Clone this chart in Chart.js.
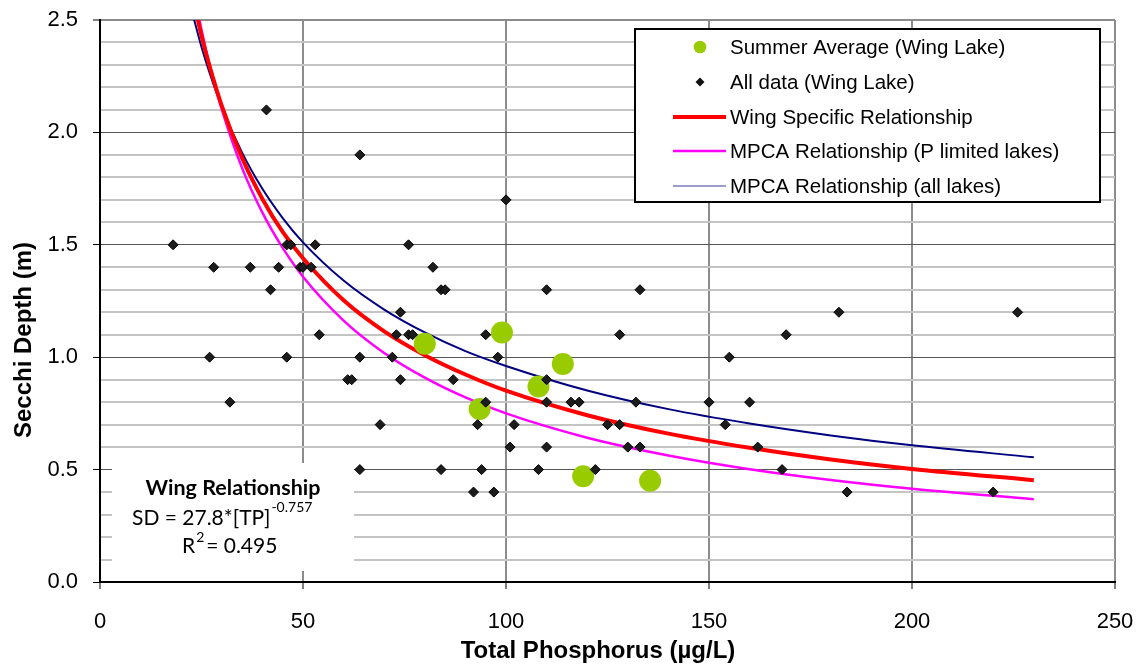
<!DOCTYPE html>
<html>
<head>
<meta charset="utf-8">
<script src="https://cdn.jsdelivr.net/npm/chart.js@4"></script>
<style>
  html,body{margin:0;padding:0;background:#fff;}
  #wrap{width:1138px;height:669px;position:relative;}
</style>
</head>
<body>
<div id="wrap"><canvas id="sd_chart" width="1138" height="669"></canvas></div>
<script>
/* Wing Lake: Secchi depth against total phosphorus */
const summerTP = [80, 93.5, 99, 108, 114, 119, 135.5];
const summerSD = [1.06, 0.77, 1.11, 0.87, 0.97, 0.47, 0.45];

const allTP = [41, 64, 100,
  18, 46, 47, 53, 76,
  28, 37, 44, 49.3, 50, 52, 82,
  42, 84, 85, 110, 133,
  74, 182, 226,
  54, 73, 76, 77, 95, 128, 169,
  27, 46, 64, 72, 98, 155,
  61, 62, 74, 87, 110,
  32, 95, 110, 116, 118, 132, 150, 160,
  69, 93, 102, 125, 128, 154,
  101, 110, 130, 133, 162,
  64, 84, 94, 108, 122, 168,
  92, 97, 184, 220];
const allSD = [2.1, 1.9, 1.7,
  1.5, 1.5, 1.5, 1.5, 1.5,
  1.4, 1.4, 1.4, 1.4, 1.4, 1.4, 1.4,
  1.3, 1.3, 1.3, 1.3, 1.3,
  1.2, 1.2, 1.2,
  1.1, 1.1, 1.1, 1.1, 1.1, 1.1, 1.1,
  1.0, 1.0, 1.0, 1.0, 1.0, 1.0,
  0.9, 0.9, 0.9, 0.9, 0.9,
  0.8, 0.8, 0.8, 0.8, 0.8, 0.8, 0.8, 0.8,
  0.7, 0.7, 0.7, 0.7, 0.7, 0.7,
  0.6, 0.6, 0.6, 0.6, 0.6,
  0.5, 0.5, 0.5, 0.5, 0.5, 0.5,
  0.4, 0.4, 0.4, 0.4];

// relationship curves, sampled along TP
const curveTP    = [23, 25, 27, 30, 35, 40, 45, 50, 60, 70, 80, 90, 100, 120, 140, 160, 180, 200, 230];
const wingSD     = [2.592, 2.430, 2.294, 2.118, 1.886, 1.704, 1.557, 1.440, 1.253, 1.115, 1.009, 0.923, 0.851, 0.742, 0.660, 0.597, 0.545, 0.503, 0.453];
const pLimitedSD = [2.637, 2.457, 2.299, 2.102, 1.841, 1.643, 1.486, 1.358, 1.163, 1.019, 0.909, 0.821, 0.750, 0.642, 0.563, 0.502, 0.454, 0.415, 0.368];
const allLakesSD = [2.514, 2.380, 2.264, 2.113, 1.910, 1.749, 1.619, 1.511, 1.341, 1.212, 1.110, 1.027, 0.961, 0.852, 0.769, 0.705, 0.652, 0.608, 0.555];

const xTicks = [0, 50, 100, 150, 200, 250];
const yTicks = [0, 0.5, 1.0, 1.5, 2.0, 2.5];
const yMinorStep = 0.1;

const legendLabels = ['Summer Average (Wing Lake)', 'All data (Wing Lake)', 'Wing Specific Relationship',
  'MPCA Relationship (P limited lakes)', 'MPCA Relationship (all lakes)'];

const pts = (xs, ys) => xs.map((x, i) => ({x: x, y: ys[i]}));
const isMajor = v => yTicks.some(t => Math.abs(t - v) < 1e-6);
const SANS = '"Liberation Sans", Arial, sans-serif';

// white box with the fitted equation
const eqBox = {
  id: 'eqBox',
  beforeDatasetsDraw(chart){
    const c = chart.ctx;
    c.save();
    c.fillStyle = '#fff';
    c.fillRect(112, 463, 242, 108);
    c.fillStyle = '#000';
    c.textBaseline = 'alphabetic';
    c.font = 'bold 21.5px Lato';
    c.textAlign = 'center';
    c.fillText('Wing Relationship', 233, 495);
    c.textAlign = 'left';
    c.font = '21px Lato';
    const s1 = 'SD = 27.8*[TP]';
    c.fillText(s1, 132, 525);
    const w1 = c.measureText(s1).width;
    c.font = '14px Lato';
    c.fillText('-0.757', 132 + w1 + 1, 512);
    c.font = '21px Lato';
    c.fillText('R', 182, 553);
    const w2 = c.measureText('R').width;
    c.font = '14px Lato';
    c.fillText('2', 182 + w2 + 1, 542);
    c.font = '21px Lato';
    c.fillText('= 0.495', 182 + w2 + 11, 553);
    c.restore();
  }
};

// legend box and axis titles
const frame = {
  id: 'frame',
  afterDraw(chart){
    const c = chart.ctx;
    c.save();
    c.fillStyle = '#fff';
    c.fillRect(635, 29, 465, 173);
    c.strokeStyle = '#000';
    c.lineWidth = 2;
    c.strokeRect(635, 29, 465, 173);

    const rowY = [47, 82, 117, 151, 186];
    // markers
    c.fillStyle = '#99cc00';
    c.beginPath(); c.arc(700, rowY[0], 6.3, 0, Math.PI * 2); c.fill();
    c.fillStyle = '#111';
    c.beginPath();
    c.moveTo(700, rowY[1] - 4.5); c.lineTo(704.5, rowY[1]); c.lineTo(700, rowY[1] + 4.5); c.lineTo(695.5, rowY[1]);
    c.closePath(); c.fill();
    const lineSample = (y, col, w) => {
      c.strokeStyle = col; c.lineWidth = w;
      c.beginPath(); c.moveTo(673, y); c.lineTo(726, y); c.stroke();
    };
    lineSample(rowY[2], '#ff0000', 4);
    lineSample(rowY[3], '#ff00ff', 2.5);
    lineSample(rowY[4], '#3a3a9c', 1);

    c.fillStyle = '#000';
    c.font = '20.5px ' + SANS;
    c.textBaseline = 'middle';
    c.textAlign = 'left';
    legendLabels.forEach((t, i) => c.fillText(t, 730, rowY[i] + 1));

    // axis titles
    c.font = 'bold 24px ' + SANS;
    c.textAlign = 'center';
    c.textBaseline = 'alphabetic';
    c.fillText('Total Phosphorus (\u00b5g/L)', 598, 658);
    c.translate(31, 340);
    c.rotate(-Math.PI / 2);
    c.fillText('Secchi Depth (m)', 0, 0);
    c.restore();
  }
};

const curve = (data, col, w, ord) => ({
  data: data, showLine: true, borderColor: col, borderWidth: w, pointRadius: 0,
  cubicInterpolationMode: 'monotone', clip: 0, order: ord, fill: false
});

new Chart(document.getElementById('sd_chart'), {
  type: 'scatter',
  data: {
    datasets: [
      {data: pts(allTP, allSD), pointStyle: 'rectRot', pointRadius: 5, backgroundColor: '#1c1c1c',
       borderColor: '#000', borderWidth: 1, order: 0},
      {data: pts(summerTP, summerSD), pointStyle: 'circle', pointRadius: 11, backgroundColor: '#99cc00',
       borderWidth: 0, order: 1},
      curve(pts(curveTP, wingSD), '#ff0000', 4, 2),
      curve(pts(curveTP, pLimitedSD), '#ff00ff', 2.5, 3),
      curve(pts(curveTP, allLakesSD), '#000080', 2, 4)
    ]
  },
  options: {
    responsive: false,
    animation: false,
    layout: {padding: {top: 20, right: 23, left: 0, bottom: 0}},
    plugins: {legend: {display: false}, tooltip: {enabled: false}},
    scales: {
      x: {
        type: 'linear', min: 0, max: 250,
        afterBuildTicks: s => { s.ticks = xTicks.map(v => ({value: v})); },
        afterFit: s => { s.height = 87; s.paddingLeft = 0; s.paddingRight = 0; },
        grid: {
          color: c => (c.tick && c.tick.value === 0) ? 'rgba(0,0,0,0)' : '#8c8c8c',
          lineWidth: 2, tickColor: '#000', tickLength: 7, tickWidth: 1
        },
        border: {color: '#000', width: 2},
        ticks: {font: {family: SANS, size: 22}, color: '#000', padding: 20, maxRotation: 0,
                autoSkip: false, callback: v => String(v)}
      },
      y: {
        min: 0, max: 2.5,
        afterBuildTicks: s => {
          const t = [];
          for (let i = 0; i <= Math.round(2.5 / yMinorStep); i++) t.push({value: +(i * yMinorStep).toFixed(1)});
          s.ticks = t;
        },
        afterFit: s => { s.width = 100; s.paddingTop = 0; s.paddingBottom = 0; },
        grid: {
          color: c => {
            const v = c.tick ? c.tick.value : 0;
            if (v === 0) return 'rgba(0,0,0,0)';
            if (Math.abs(v - 2.5) < 1e-6) return '#8c8c8c';
            return isMajor(v) ? '#555' : '#c4c4c4';
          },
          lineWidth: c => {
            const v = c.tick ? c.tick.value : 0;
            if (Math.abs(v - 2.5) < 1e-6) return 2;
            return isMajor(v) ? 1 : 2;
          },
          tickColor: c => (c.tick && isMajor(c.tick.value)) ? '#000' : 'rgba(0,0,0,0)',
          tickLength: 7, tickWidth: 1
        },
        border: {color: '#000', width: 2},
        ticks: {font: {family: SANS, size: 22}, color: '#000', padding: 15, autoSkip: false,
                callback: v => isMajor(v) ? v.toFixed(1) : ''}
      }
    }
  },
  plugins: [eqBox, frame]
});
</script>
</body>
</html>
